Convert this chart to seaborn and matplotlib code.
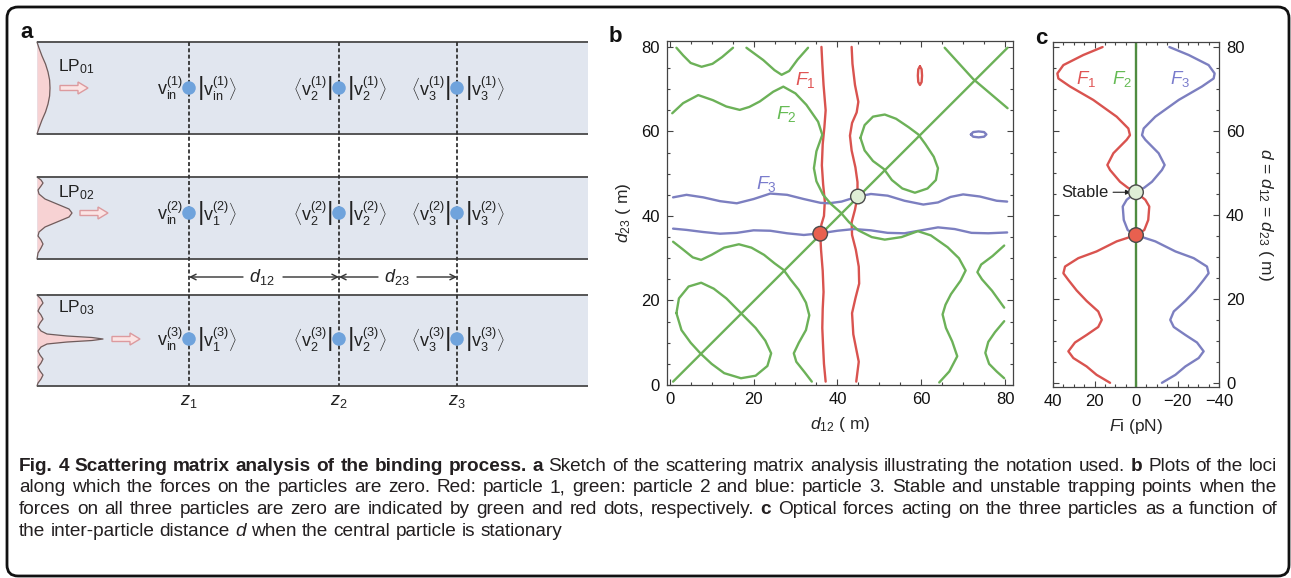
import numpy as np
import pandas as pd
import seaborn as sns
import matplotlib
matplotlib.use("Agg")
import matplotlib.pyplot as plt
from matplotlib.patches import FancyBboxPatch, FancyArrow
from matplotlib.ticker import MultipleLocator

sns.set_theme(style="ticks")
plt.rcParams["font.family"] = ["Liberation Sans", "DejaVu Sans"]
plt.rcParams["mathtext.fontset"] = "custom"
plt.rcParams["mathtext.rm"] = "Liberation Sans"
plt.rcParams["mathtext.it"] = "Liberation Sans:italic"
plt.rcParams["mathtext.bf"] = "Liberation Sans:bold"

RED = "#d9534f"
GREEN = "#6cb158"
BLUE = "#7c7fc0"
DARK = "#222222"

# ================= panel b : zero-force loci (d12, d23 in um) =================
f1_left_x = [36.2, 36.4, 36.7, 37.2, 36.9, 36.5, 36.3, 36.6, 37.0, 36.8, 36.2, 35.9,
             36.1, 36.5, 36.7, 36.5, 36.4, 36.6, 36.8, 37.2]
f1_left_y = [80, 76, 71, 65, 61, 57, 52, 47.5, 43.5, 40, 38, 35.8,
             32, 27, 22, 18, 13.5, 9, 5, 0.8]
f1_right_x = [43.4, 43.6, 44.2, 45.0, 44.6, 43.5, 43.0, 43.4, 44.3, 44.8, 44.8, 44.2,
              43.4, 43.5, 44.4, 45.1, 45.2, 44.3, 43.5, 43.8, 44.6, 45.1, 44.5]
f1_right_y = [80, 76, 71, 67, 64.5, 62, 59, 55.5, 51.5, 48, 44.6, 41.5,
              38.5, 35.5, 32, 28, 24, 20.5, 17, 12, 8, 5.5, 0.8]
f1_loop_x = [59.7, 60.1, 60.2, 60.1, 59.7, 59.3, 59.2, 59.3, 59.7]
f1_loop_y = [75.4, 74.7, 73.2, 71.7, 71.0, 71.7, 73.2, 74.7, 75.4]

f3_upper_x = [0.8, 4, 8, 12, 16, 20, 24, 28, 32, 36, 38, 41, 44.9, 48, 52, 56, 60.5,
              64, 67, 70, 74, 78, 80.5]
f3_upper_y = [44.4, 45.0, 44.4, 43.5, 43.0, 44.0, 45.3, 45.0, 44.0, 43.1, 43.0, 43.4,
              44.6, 45.2, 44.8, 43.6, 42.7, 43.2, 44.5, 45.1, 44.6, 43.6, 43.4]
f3_lower_x = [0.8, 4, 8, 12, 16, 20, 24, 28, 32, 36, 40, 44, 48, 52, 56, 60, 64, 68,
              72, 76, 80.5]
f3_lower_y = [37.0, 36.7, 36.2, 35.8, 36.0, 36.6, 36.5, 35.9, 35.5, 35.9, 36.5, 36.9,
              36.6, 36.0, 35.9, 36.6, 37.3, 36.9, 36.0, 35.9, 36.1]
f3_loop_x = [71.85, 72.4, 73.7, 75.0, 75.55, 75.0, 73.7, 72.4, 71.85]
f3_loop_y = [59.3, 59.85, 60.0, 59.85, 59.3, 58.75, 58.6, 58.75, 59.3]

f2_diag_x = [0.8, 80.6]
f2_diag_y = [0.8, 79.8]
f2_corner_x = [65.6, 72.4, 80.6]
f2_corner_y = [79.8, 72.4, 65.5]
f2_wave_x = [0.6, 3.2, 6.8, 10.3, 13.5, 16.7, 19.0, 21.5, 24.7, 27.1, 30.0, 32.6, 35.4,
             36.4, 35.0, 34.4, 35.0, 36.6, 38.5, 40.8, 42.8, 45.0, 48.2, 51.3, 55.3,
             59.2, 62.3, 66.3, 69.0, 70.6, 69.4, 67.1, 65.8, 65.1, 65.9, 67.4, 68.6,
             66.7, 64.3]
f2_wave_y = [64.3, 66.7, 68.6, 67.4, 65.9, 65.1, 65.8, 67.1, 69.4, 70.6, 69.0, 66.3, 62.3,
             59.2, 55.3, 51.3, 48.2, 45.0, 42.8, 40.8, 38.5, 36.6, 35.0, 34.4, 35.0,
             36.4, 35.4, 32.6, 30.0, 27.1, 24.7, 21.5, 19.0, 16.7, 13.5, 10.3, 6.8,
             3.2, 0.6]
f2_low_x = [0.8, 3.0, 5.5, 7.5, 10.0, 13.0, 16.5, 19.5, 22.5, 25.0, 27.2, 28.8, 30.8,
            32.5, 33.3, 32.5, 30.8, 29.6, 30.2, 32.2, 33.9]
f2_low_y = [33.9, 32.2, 30.2, 29.6, 30.8, 32.5, 33.3, 32.5, 30.8, 28.8, 27.2, 25.0, 22.5,
            19.5, 16.5, 13.0, 10.0, 7.5, 5.5, 3.0, 0.8]
f2_tl1_x = [1.6, 3.2, 5.0, 7.6, 10.2, 12.5, 15.1]
f2_tl1_y = [79.8, 78.0, 76.2, 75.3, 76.0, 77.6, 79.8]
f2_br1_x = [79.8, 78.0, 76.2, 75.3, 76.0, 77.6, 79.8]
f2_br1_y = [1.6, 3.2, 5.0, 7.6, 10.2, 12.5, 15.1]
f2_tl2_x = [18.3, 22.3, 25.0, 26.7, 28.5, 30.5, 33.0]
f2_tl2_y = [79.8, 76.9, 74.5, 73.4, 74.3, 77.0, 79.8]
f2_br2_x = [79.8, 76.9, 74.5, 73.4, 74.3, 77.0, 79.8]
f2_br2_y = [18.3, 22.3, 25.0, 26.7, 28.5, 30.5, 33.0]
f2_loopA_x = [1.6, 2.2, 4.5, 7.5, 10.5, 13.5, 17.0, 20.5, 22.8, 24.2, 23.3, 20.5, 17.0,
              13.0, 10.0, 7.4, 5.0, 2.8, 1.6]
f2_loopA_y = [17.0, 20.5, 23.3, 24.2, 22.8, 20.5, 17.0, 13.5, 10.5, 7.5, 4.5, 2.2, 1.6,
              2.8, 5.0, 7.4, 10.0, 13.0, 17.0]
f2_loopB_x = [45.5, 46.5, 48.5, 51.3, 54.0, 57.0, 59.3, 61.0, 63.0, 64.0, 63.5, 61.5,
              58.5, 55.5, 53.0, 51.1, 48.5, 46.5, 45.5]
f2_loopB_y = [58.5, 61.5, 63.5, 64.0, 63.0, 61.0, 59.3, 57.0, 54.0, 51.3, 48.5, 46.5,
              45.5, 46.5, 48.5, 51.1, 53.0, 55.5, 58.5]

unstable_pt = (35.9, 35.8)
stable_pt = (44.9, 44.6)

# ================= panel c : forces vs d (pN, um) =================
c_d = [0, 1.9, 3.9, 5.9, 7.5, 9.6, 11.4, 13.3, 15, 17, 19.5, 22, 24.5, 26.1, 27.7,
       29.7, 31.3, 33.7, 35.2, 36.4, 38.8, 42, 43.6, 44.8, 45.4, 46.5, 47.9, 50.7,
       51.9, 54.7, 57.9, 59, 60.6, 63.4, 67.4, 70.6, 72.5, 73.7, 75.7, 78.1, 80]
c_f1 = [12.5, 19, 23.8, 30.2, 32.6, 29.4, 23.8, 18.2, 16.5, 18.2, 23.8, 28.6, 32.6, 35,
        34.2, 27.8, 19, 9.3, 0, -4.0, -5.9, -6.4, -4.5, -1.5, 0, 4.0, 7.7, 12.5,
        13.8, 10.9, 4.5, 2.9, 3.7, 9.3, 20.6, 31.8, 37.4, 37.9, 35, 25.4, 16.1]
c_f3 = [-12.5, -19, -23.8, -30.2, -32.6, -29.4, -23.8, -18.2, -16.5, -18.2, -23.8, -28.6,
        -32.6, -35, -34.2, -27.8, -19, -9.3, 0, 4.0, 5.9, 6.4, 4.5, 1.5, 0, -4.0, -7.7,
        -12.5, -13.8, -10.9, -4.5, -2.9, -3.7, -9.3, -20.6, -31.8, -37.4, -37.9, -35,
        -25.4, -16.1]
c_f2_d = [-1, 81.3]
c_f2 = [0, 0]
c_unstable = (0, 35.2)
c_stable = (0, 45.4)

# ================= panel a : sketch =================
z_pos = [189, 339, 457]
z_names = [r"$z_1$", r"$z_2$", r"$z_3$"]
box_top = [42, 177, 295]
box_bot = [134, 259, 386]
row_y = [88, 213, 339]
fiber_x0, fiber_x1 = 37, 588
mode_names = [r"$\mathrm{LP}_{01}$", r"$\mathrm{LP}_{02}$", r"$\mathrm{LP}_{03}$"]
mode_label_y = [67, 193, 308]
pump_x = [60, 80, 112]
lp01_dy = [-46, -40, -32, -24, -16, -8, 0, 8, 16, 24, 32, 40, 46]
lp01_dx = [0, 2, 5, 8.5, 11, 12.6, 13, 12.6, 11, 8.5, 5, 2, 0]
lp02_dy = [-36, -33, -30, -27, -23, -19, -14, -9, -4, 0, 4, 9, 14, 19, 23, 27, 31, 35, 40, 46]
lp02_dx = [0, 4, 6, 4, 1, 2, 8, 20, 32, 35, 32, 20, 8, 2, 1, 4, 6, 4, 1, 0]
lp03_dy = [-44, -40, -36, -32, -28, -24, -20, -16, -12, -8, -5, -3, -1.5, 0,
           1.5, 3, 5, 8, 12, 16, 20, 24, 28, 32, 36, 40, 44, 47]
lp03_dx = [0, 4, 6, 3, 1, 4, 6, 3, 1, 4, 10, 30, 55, 66,
           55, 30, 10, 4, 1, 3, 6, 4, 1, 3, 6, 4, 1, 0]
ket_first = ["in", "1", "1"]
dist_y = 277

W, H = 1291, 578
fig = plt.figure(figsize=(W / 100, H / 100), dpi=100)
fig.patch.set_facecolor("white")
ax0 = fig.add_axes([0, 0, 1, 1])
ax0.set_xlim(0, W)
ax0.set_ylim(H, 0)
ax0.axis("off")

# outer frame
ax0.add_patch(FancyBboxPatch((7, 7), 1282, 569, boxstyle="round,pad=0,rounding_size=11",
                             ec="#111111", fc="none", lw=2.0, zorder=1))

profiles = [(lp01_dy, lp01_dx), (lp02_dy, lp02_dx), (lp03_dy, lp03_dx)]
for k in range(3):
    ax0.fill_between([fiber_x0, fiber_x1], box_top[k], box_bot[k], color="#e1e6ef", lw=0, zorder=1)
    ax0.hlines([box_top[k], box_bot[k]], fiber_x0, fiber_x1, color="#555555", lw=1.4, zorder=4)
    yy = row_y[k] + np.array(profiles[k][0])
    xx = fiber_x0 + np.array(profiles[k][1])
    ax0.fill_betweenx(yy, fiber_x0, xx, color="#f7d2d3", lw=0, zorder=2)
    ax0.plot(xx, yy, color="#6e5c5c", lw=0.9, zorder=3)
    ax0.text(58, mode_label_y[k], mode_names[k], fontsize=12.5, ha="left", va="center", color=DARK, zorder=5)
    ax0.add_patch(FancyArrow(pump_x[k], row_y[k], 28, 0, width=5, head_width=12, head_length=10,
                             length_includes_head=True, fc="#fbe4e4", ec="#dc9a9e", lw=1.0, zorder=5))

ax0.vlines(z_pos, box_top[0], box_bot[2], colors="#333333", linestyles=(0, (2.2, 1.3)), lw=1.3, zorder=5)

dots = pd.DataFrame({"z": np.repeat(z_pos, 3), "row": np.tile(row_y, 3)})
sns.scatterplot(data=dots, x="z", y="row", s=95, color="#6fa3dc", edgecolor="none", ax=ax0, zorder=6)
ax0.set_xlim(0, W)
ax0.set_ylim(H, 0)
ax0.axis("off")

for k in range(3):
    m = k + 1
    ax0.text(z_pos[0] - 6, row_y[k], r"$\mathrm{v}_{\mathrm{in}}^{(%d)}$" % m,
             fontsize=13, ha="right", va="center", color=DARK, zorder=7)
    ax0.text(z_pos[0] + 8, row_y[k], r"$\left|\mathrm{v}_{\mathrm{%s}}^{(%d)}\right\rangle$" % (ket_first[k], m),
             fontsize=13, ha="left", va="center", color=DARK, zorder=7)
    for j in (1, 2):
        ax0.text(z_pos[j] - 7, row_y[k], r"$\left\langle\mathrm{v}_{%d}^{(%d)}\right|$" % (j + 1, m),
                 fontsize=13, ha="right", va="center", color=DARK, zorder=7)
        ax0.text(z_pos[j] + 8, row_y[k], r"$\left|\mathrm{v}_{%d}^{(%d)}\right\rangle$" % (j + 1, m),
                 fontsize=13, ha="left", va="center", color=DARK, zorder=7)

for j in range(3):
    ax0.text(z_pos[j], 401, z_names[j], fontsize=13, ha="center", va="center", color=DARK)

arrow_kw = dict(arrowstyle="->", lw=1.0, color="#333333", shrinkA=0, shrinkB=0, mutation_scale=10)
ax0.annotate("", xy=(z_pos[0], dist_y), xytext=(243, dist_y), arrowprops=arrow_kw)
ax0.annotate("", xy=(z_pos[1], dist_y), xytext=(283, dist_y), arrowprops=arrow_kw)
ax0.annotate("", xy=(z_pos[1], dist_y), xytext=(378, dist_y), arrowprops=arrow_kw)
ax0.annotate("", xy=(z_pos[2], dist_y), xytext=(417, dist_y), arrowprops=arrow_kw)
ax0.text(262, dist_y, r"$d_{12}$", fontsize=13, ha="center", va="center", color=DARK)
ax0.text(397, dist_y, r"$d_{23}$", fontsize=13, ha="center", va="center", color=DARK)

for lab, (px, py) in zip(["a", "b", "c"], [(27, 33), (615, 37), (1041, 38)]):
    ax0.text(px, py, lab, fontsize=16, fontweight="bold", ha="center", va="center", color="#111111")

# ---------------- panel b ----------------
ax_b = fig.add_axes([667 / W, 1 - 385 / H, 346 / W, 344 / H])
pieces = [("F1", f1_left_x, f1_left_y), ("F1", f1_right_x, f1_right_y), ("F1", f1_loop_x, f1_loop_y),
          ("F3", f3_upper_x, f3_upper_y), ("F3", f3_lower_x, f3_lower_y), ("F3", f3_loop_x, f3_loop_y),
          ("F2", f2_diag_x, f2_diag_y), ("F2", f2_corner_x, f2_corner_y), ("F2", f2_wave_x, f2_wave_y),
          ("F2", f2_low_x, f2_low_y), ("F2", f2_tl1_x, f2_tl1_y), ("F2", f2_br1_x, f2_br1_y),
          ("F2", f2_tl2_x, f2_tl2_y), ("F2", f2_br2_x, f2_br2_y), ("F2", f2_loopA_x, f2_loopA_y),
          ("F2", f2_loopB_x, f2_loopB_y)]
rows = []
for i, (name, xs, ys) in enumerate(pieces):
    for x, y in zip(xs, ys):
        rows.append({"d12": x, "d23": y, "force": name, "piece": i})
df_b = pd.DataFrame(rows)
pal = {"F1": RED, "F2": GREEN, "F3": BLUE}
sns.lineplot(data=df_b, x="d12", y="d23", hue="force", units="piece", estimator=None, sort=False,
             palette=pal, lw=1.7, legend=False, ax=ax_b)
pts_b = pd.DataFrame({"x": [unstable_pt[0], stable_pt[0]], "y": [unstable_pt[1], stable_pt[1]],
                      "kind": ["unstable", "stable"]})
sns.scatterplot(data=pts_b, x="x", y="y", hue="kind", palette={"unstable": "#e8604f", "stable": "#dfeed6"},
                s=110, edgecolor="#4a4a4a", linewidth=1.0, legend=False, ax=ax_b, zorder=5)
ax_b.text(32.4, 72.2, r"$F_1$", color="#e05555", fontsize=14, ha="center", va="center")
ax_b.text(27.8, 64.1, r"$F_2$", color="#66bb55", fontsize=14, ha="center", va="center")
ax_b.text(23.1, 47.5, r"$F_3$", color="#7a7ccc", fontsize=14, ha="center", va="center")
ax_b.set_xlim(-0.65, 81.9)
ax_b.set_ylim(0, 81.4)
ax_b.set_xlabel(r"$d_{12}$ ( m)", fontsize=12.5, labelpad=6)
ax_b.set_ylabel(r"$d_{23}$ ( m)", fontsize=12.5, labelpad=6)

# ---------------- panel c ----------------
ax_c = fig.add_axes([1053 / W, 1 - 387 / H, 166 / W, 345 / H])
df_c = pd.concat([pd.DataFrame({"F": c_f1, "d": c_d, "force": "F1"}),
                  pd.DataFrame({"F": c_f3, "d": c_d, "force": "F3"}),
                  pd.DataFrame({"F": c_f2, "d": c_f2_d, "force": "F2"})])
sns.lineplot(data=df_c, x="F", y="d", hue="force", sort=False, estimator=None,
             palette={"F1": RED, "F2": "#4f8c40", "F3": BLUE}, lw=1.7, legend=False, ax=ax_c)
pts_c = pd.DataFrame({"x": [c_unstable[0], c_stable[0]], "y": [c_unstable[1], c_stable[1]],
                      "kind": ["unstable", "stable"]})
sns.scatterplot(data=pts_c, x="x", y="y", hue="kind", palette={"unstable": "#e8604f", "stable": "#dfeed6"},
                s=110, edgecolor="#4a4a4a", linewidth=1.0, legend=False, ax=ax_c, zorder=5)
ax_c.annotate("Stable", xy=(2.6, c_stable[1]), xytext=(13.3, c_stable[1]), ha="right", va="center",
              fontsize=12, color=DARK,
              arrowprops=dict(arrowstyle="-|>", color=DARK, lw=0.8, mutation_scale=7, shrinkA=1, shrinkB=0))
ax_c.text(23.8, 72.5, r"$F_1$", color="#e05555", fontsize=13.5, ha="center", va="center")
ax_c.text(6.9, 72.5, r"$F_2$", color="#66bb55", fontsize=13.5, ha="center", va="center")
ax_c.text(-21.2, 72.5, r"$F_3$", color="#7a7ccc", fontsize=13.5, ha="center", va="center")
ax_c.set_xlim(40, -40)
ax_c.set_ylim(-1, 81.2)
ax_c.set_xlabel(r"$F$i (pN)", fontsize=12.5, labelpad=6)
ax_c.yaxis.set_label_position("right")
ax_c.set_ylabel(r"$d$ = $d_{12}$ = $d_{23}$ ( m)", fontsize=12.5, rotation=270, va="bottom", labelpad=8)

for ax in (ax_b, ax_c):
    ax.xaxis.set_major_locator(MultipleLocator(20))
    ax.xaxis.set_minor_locator(MultipleLocator(5))
    ax.yaxis.set_major_locator(MultipleLocator(20))
    ax.yaxis.set_minor_locator(MultipleLocator(5))
    ax.tick_params(which="both", direction="in", top=True, right=True, left=True, bottom=True,
                   color="#444444", width=0.8)
    ax.tick_params(which="major", length=4, labelsize=12, pad=5, labelcolor="#111111")
    ax.tick_params(which="minor", length=2.2)
    for s in ax.spines.values():
        s.set_color("#444444")
        s.set_linewidth(0.9)
    ax.set_facecolor("white")
ax_c.tick_params(labelleft=False, labelright=True)

# ---------------- caption ----------------
cap_lines = [
    [("Fig. 4 Scattering matrix analysis of the binding process.", "bold"), ("a", "bold"),
     ("Sketch of the scattering matrix analysis illustrating the notation used.", "normal"),
     ("b", "bold"), ("Plots of the loci", "normal")],
    [("along which the forces on the particles are zero. Red: particle 1, green: particle 2 and "
      "blue: particle 3. Stable and unstable trapping points when the", "normal")],
    [("forces on all three particles are zero are indicated by green and red dots, respectively.", "normal"),
     ("c", "bold"), ("Optical forces acting on the three particles as a function of", "normal")],
    [("the inter-particle distance", "normal"), ("d", "italic"),
     ("when the central particle is stationary", "normal")],
]
cap_base = [471, 492.5, 514, 535.5]
cap_x0, cap_x1 = 19, 1277

renderer = fig.canvas.get_renderer()


def make_words(line, fs):
    arts = []
    for seg, style in line:
        for w in seg.split():
            arts.append(ax0.text(0, 0, w, fontsize=fs, ha="left", va="baseline", color="#231f20",
                                 fontweight="bold" if style == "bold" else "normal",
                                 fontstyle="italic" if style == "italic" else "normal"))
    return arts


def measure(arts):
    return [a.get_window_extent(renderer).width for a in arts]


# size the caption so the justified lines carry normal word spacing
fs = 12.0
trial = [make_words(line, fs) for line in cap_lines[:-1]]
need = 0
for arts in trial:
    wl = measure(arts)
    need = max(need, sum(wl) + 0.28 * fs * 100 / 72 * (len(wl) - 1))
    for a in arts:
        a.remove()
fs = fs * (cap_x1 - cap_x0) / need * 0.995

space = 0.28 * fs * 100 / 72
for li, line in enumerate(cap_lines):
    arts = make_words(line, fs)
    wl = measure(arts)
    if li < len(cap_lines) - 1:
        gap = (cap_x1 - cap_x0 - sum(wl)) / (len(wl) - 1)
    else:
        gap = space
    x = cap_x0
    for a, w in zip(arts, wl):
        a.set_position((x, cap_base[li]))
        x += w + gap

fig.savefig("out.png", dpi=100, facecolor="white")
